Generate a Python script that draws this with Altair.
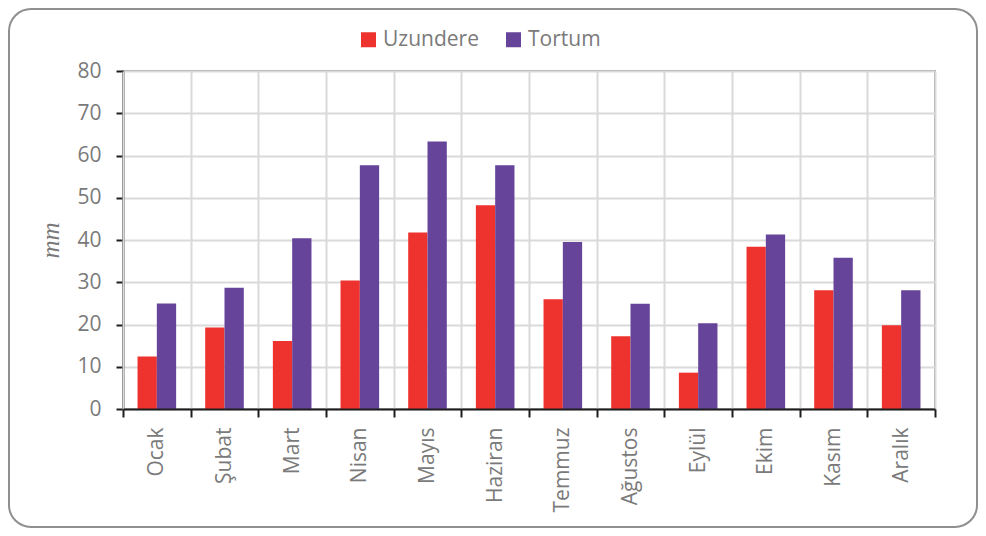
import altair as alt
import pandas as pd

months = ["Ocak", "Şubat", "Mart", "Nisan", "Mayıs", "Haziran", "Temmuz",
          "Ağustos", "Eylül", "Ekim", "Kasım", "Aralık"]
uzundere = [12.4, 19.3, 16.1, 30.4, 41.8, 48.2, 26.0, 17.2, 8.6, 38.4, 28.1, 19.8]
tortum = [25.0, 28.7, 40.4, 57.7, 63.3, 57.7, 39.5, 24.9, 20.3, 41.3, 35.8, 28.1]
series = ["Uzundere", "Tortum"]
colors = ["#EE332E", "#65449A"]
y_ticks = [0, 10, 20, 30, 40, 50, 60, 70, 80]

rows = []
for i, m in enumerate(months):
    rows.append({"ay": m, "seri": "Uzundere", "deger": uzundere[i]})
    rows.append({"ay": m, "seri": "Tortum", "deger": tortum[i]})
df = pd.DataFrame(rows)

FONT = "Open Sans"
GRAY = "#7a7a7a"
FS = 21

frame = alt.Chart(pd.DataFrame({"k": [0]})).mark_rect(
    fill="transparent", stroke="#8f8f8f", strokeWidth=2, cornerRadius=22
).encode(
    x=alt.value(-114), x2=alt.value(854), y=alt.value(-62), y2=alt.value(456)
)

bars = alt.Chart(df).mark_bar().encode(
    x=alt.X("ay:N", sort=months,
            scale=alt.Scale(paddingInner=0, paddingOuter=0),
            axis=alt.Axis(title=None, labelAngle=-90, tickBand="extent",
                          grid=True, gridColor="#dadada", gridWidth=2,
                          domainColor="#1e1e1e", domainWidth=2,
                          tickColor="#1e1e1e", tickWidth=2, tickSize=8,
                          labelPadding=10, labelColor=GRAY, labelFontSize=FS,
                          labelFont=FONT, zindex=1)),
    xOffset=alt.XOffset("seri:N", sort=series,
                        scale=alt.Scale(domain=series, paddingInner=0, paddingOuter=0.753)),
    y=alt.Y("deger:Q",
            scale=alt.Scale(domain=[0, 80], nice=False),
            axis=alt.Axis(title="mm", values=y_ticks, grid=True,
                          gridColor="#dadada", gridWidth=2,
                          domainColor="#1e1e1e", domainWidth=2,
                          tickColor="#1e1e1e", tickWidth=2, tickSize=7,
                          labelPadding=15, labelColor=GRAY, labelFontSize=FS,
                          labelFont=FONT,
                          titleFont="Liberation Serif", titleFontStyle="italic",
                          titleFontWeight="normal", titleFontSize=25,
                          titleColor=GRAY, titleAngle=-90, titleX=-65,
                          titleBaseline="alphabetic", zindex=0)),
    color=alt.Color("seri:N", sort=series,
                    scale=alt.Scale(domain=series, range=colors),
                    legend=alt.Legend(title=None, orient="none", direction="horizontal",
                                      legendX=235, legendY=-42, symbolType="square",
                                      symbolSize=225, symbolStrokeWidth=0,
                                      labelFont=FONT, labelFontSize=FS,
                                      labelColor=GRAY, labelOffset=4,
                                      columnPadding=24, padding=0)),
)

chart = alt.layer(frame, bars).properties(
    width=812, height=338,
    autosize=alt.AutoSizeParams(type="none"),
    padding={"left": 115, "top": 63, "right": 43, "bottom": 119},
).configure_view(stroke="#a0a0a0", strokeWidth=2)

chart.save("out.html", embed_options={"renderer": "svg", "actions": False})
